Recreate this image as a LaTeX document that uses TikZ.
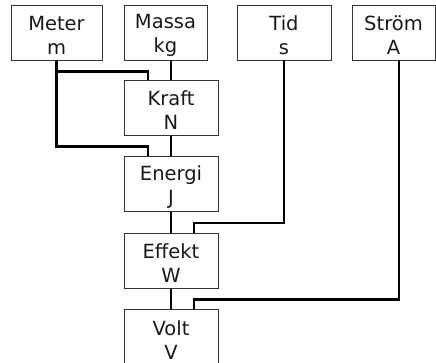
\documentclass[tikz,border=0pt]{standalone}
\usepackage{fontspec}
\setmainfont{DejaVu Sans}
\usetikzlibrary{positioning}

\newcommand{\enhet}[2]{\rule{0pt}{20pt}#1\\#2}

\begin{document}
\begin{tikzpicture}[
    x=1pt, y=-1pt,
    node distance=20.5pt,
    every node/.style={draw=black!80, line width=0.9pt, minimum height=55pt, inner sep=0pt, align=center, font=\fontsize{19.5}{24}\selectfont, text=black!90},
    unit/.style={minimum width=94pt},
    link/.style={line width=2.6pt}
]
\useasboundingbox (0,0) rectangle (436,363);

% Grundstorheter
\node[minimum width=91pt] (meter) at (56.5,32.5) {\enhet{Meter}{m}};
\node[minimum width=83pt] (massa) at (165.5,32.5) {\enhet{Massa}{kg}};
\node[unit] (tid) at (284,32.5) {\enhet{Tid}{s}};
\node[minimum width=83pt] (strom) at (393.5,32.5) {\enhet{Ström}{A}};

% Härledda enheter
\node[unit] (kraft) at (171,108) {\enhet{Kraft}{N}};
\node[unit, below=of kraft] (energi) {\enhet{Energi}{J}};
\node[unit, below=of energi] (effekt) {\enhet{Effekt}{W}};
\node[unit, below=of effekt] (volt) {\enhet{Volt}{V}};

% Kopplingar
\draw[link] (meter.south) |- ++(0,11) -| ([xshift=-23pt]kraft.north);
\draw[link] (meter.south) |- ([xshift=-23pt, yshift=10pt]energi.north) -- ([xshift=-23pt]energi.north);
\draw[link] (massa.south -| kraft.north) -- (kraft.north);
\draw[link] (kraft) -- (energi);
\draw[link] (energi) -- (effekt);
\draw[link] (effekt) -- (volt);
\draw[link] (tid.south) |- ([xshift=23pt, yshift=10pt]effekt.north) -- ([xshift=23pt]effekt.north);
\draw[link] ([xshift=5.5pt]strom.south) |- ([xshift=23pt, yshift=10pt]volt.north) -- ([xshift=23pt]volt.north);

\end{tikzpicture}
\end{document}
